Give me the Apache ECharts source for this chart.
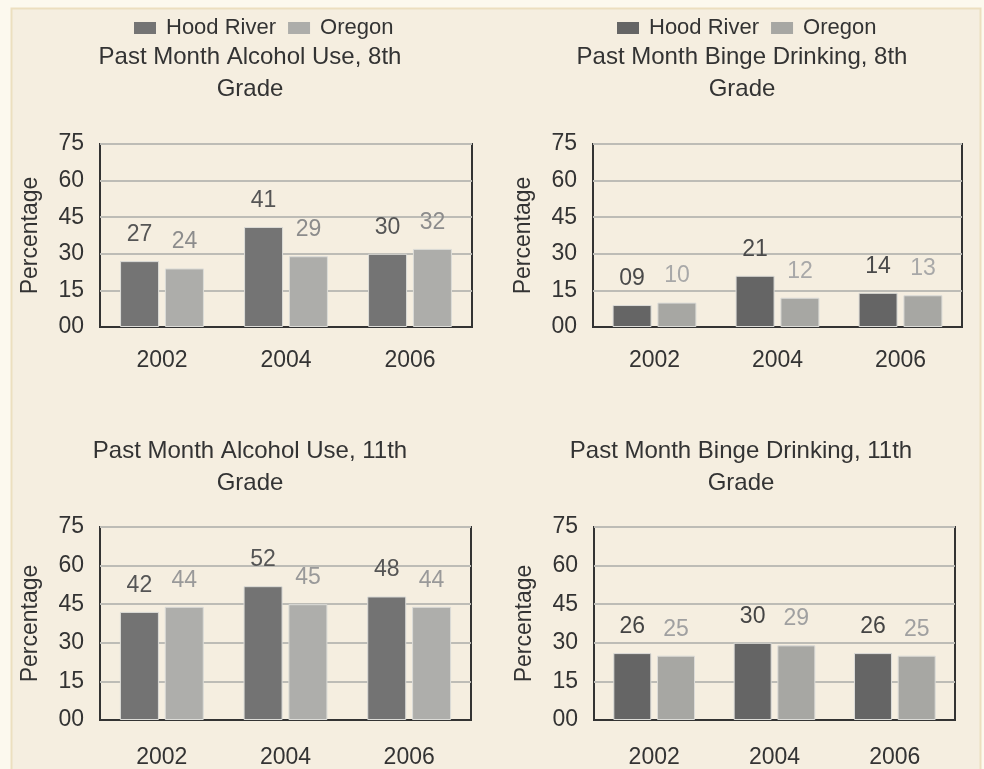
<!DOCTYPE html>
<html>
<head>
<meta charset="utf-8">
<script src="https://cdn.jsdelivr.net/npm/echarts@6/dist/echarts.min.js"></script>
<style>
html,body{margin:0;padding:0;background:#fcf9ee;}
#c{width:984px;height:769px;}
</style>
</head>
<body>
<div id="c"></div>
<script>
const years = ['2002', '2004', '2006'];
const yTicks = [0, 15, 30, 45, 60, 75];
const seriesNames = ['Hood River', 'Oregon'];
const titles = [
  'Past Month Alcohol Use, 8th\nGrade',
  'Past Month Binge Drinking, 8th\nGrade',
  'Past Month Alcohol Use, 11th\nGrade',
  'Past Month Binge Drinking, 11th\nGrade'
];
const alcohol8HoodRiver = [27, 41, 30];
const alcohol8Oregon = [24, 29, 32];
const binge8HoodRiver = [9, 21, 14];
const binge8Oregon = [10, 12, 13];
const alcohol11HoodRiver = [42, 52, 48];
const alcohol11Oregon = [44, 45, 44];
const binge11HoodRiver = [26, 30, 26];
const binge11Oregon = [25, 29, 25];

const panels = [
  {hr: alcohol8HoodRiver, or: alcohol8Oregon},
  {hr: binge8HoodRiver, or: binge8Oregon},
  {hr: alcohol11HoodRiver, or: alcohol11Oregon},
  {hr: binge11HoodRiver, or: binge11Oregon}
];

const FONT = 'Liberation Sans, Arial, sans-serif';
const grids = [
  {left: 100, top: 144, width: 372, height: 183},
  {left: 593, top: 144, width: 369, height: 183},
  {left: 100, top: 527, width: 371, height: 193},
  {left: 594, top: 527, width: 361, height: 194}
];
const hrColors = ['#747474', '#656565', '#737373', '#656565'];
const orColors = ['#adadaa', '#a7a7a3', '#aeaeab', '#a7a7a3'];
const hrLabel = ['#555555', '#4a4a4a', '#555555', '#444444'];
const orLabel = ['#8c8c8c', '#a8a8a8', '#999999', '#a0a0a0'];
const titlePos = [
  {x: 245, y: 36}, {x: 737, y: 36}, {x: 245, y: 430}, {x: 736, y: 430}
];
const xLabelMargin = [22, 22, 26, 26];
const pad2 = v => String(v).padStart(2, '0');

const option = {
  backgroundColor: 'transparent',
  animation: false,
  graphic: [{
    type: 'rect', z: -10,
    shape: {x: 11.5, y: 8.5, width: 969, height: 780},
    style: {fill: '#f5eee0', stroke: '#ecdfbf', lineWidth: 2}
  }],
  title: titles.map((t, i) => ({
    text: t, left: titlePos[i].x, top: titlePos[i].y, textAlign: 'center',
    textStyle: {fontFamily: FONT, fontSize: 24, fontWeight: 'normal', color: '#333', lineHeight: 32}
  })),
  legend: [
    {left: 129, top: 12},
    {left: 612, top: 12}
  ].map((p, k) => ({
    left: p.left, top: p.top, icon: 'rect', itemWidth: 22, itemHeight: 12, itemGap: 12,
    itemStyle: {borderWidth: 0},
    textStyle: {fontFamily: FONT, fontSize: 22, color: '#333', padding: [0, 0, 0, 5]},
    data: [
      {name: seriesNames[0], itemStyle: {color: hrColors[k], borderWidth: 0}},
      {name: seriesNames[1], itemStyle: {color: orColors[k], borderWidth: 0}}
    ]
  })),
  grid: grids.map(g => Object.assign({show: true, borderColor: '#333', borderWidth: 2, backgroundColor: 'transparent'}, g)),
  xAxis: grids.map((g, i) => ({
    type: 'category', gridIndex: i, data: years,
    axisTick: {show: false},
    axisLine: {lineStyle: {color: '#333', width: 2}},
    axisLabel: {fontFamily: FONT, fontSize: 23, color: '#333', margin: xLabelMargin[i]}
  })),
  yAxis: grids.map((g, i) => ({
    type: 'value', gridIndex: i, min: yTicks[0], max: yTicks[yTicks.length - 1], interval: 15,
    name: 'Percentage', nameLocation: 'middle', nameGap: 58,
    nameTextStyle: {fontFamily: FONT, fontSize: 23, color: '#333'},
    axisLine: {show: false}, axisTick: {show: false},
    axisLabel: {fontFamily: FONT, fontSize: 23, color: '#333', margin: 16, formatter: v => pad2(v)},
    splitLine: {lineStyle: {color: '#bdbcb6', width: 2}}
  })),
  series: []
};

panels.forEach((p, i) => {
  const bw = i === 3 ? 38 : 39;
  option.series.push({
    type: 'bar', name: seriesNames[0], xAxisIndex: i, yAxisIndex: i, data: p.hr,
    barWidth: bw, barGap: '15%',
    itemStyle: {color: hrColors[i], borderColor: '#dcdcd8', borderWidth: 1},
    label: {show: true, position: 'top', distance: 15, fontFamily: FONT, fontSize: 23, color: hrLabel[i], formatter: d => pad2(d.value)}
  });
  option.series.push({
    type: 'bar', name: seriesNames[1], xAxisIndex: i, yAxisIndex: i, data: p.or,
    barWidth: bw, barGap: '15%',
    itemStyle: {color: orColors[i], borderColor: '#dcdcd8', borderWidth: 1},
    label: {show: true, position: 'top', distance: 15, fontFamily: FONT, fontSize: 23, color: orLabel[i], formatter: d => pad2(d.value)}
  });
});

const chart = echarts.init(document.getElementById('c'), null, {renderer: 'canvas'});
chart.setOption(option);
</script>
</body>
</html>
